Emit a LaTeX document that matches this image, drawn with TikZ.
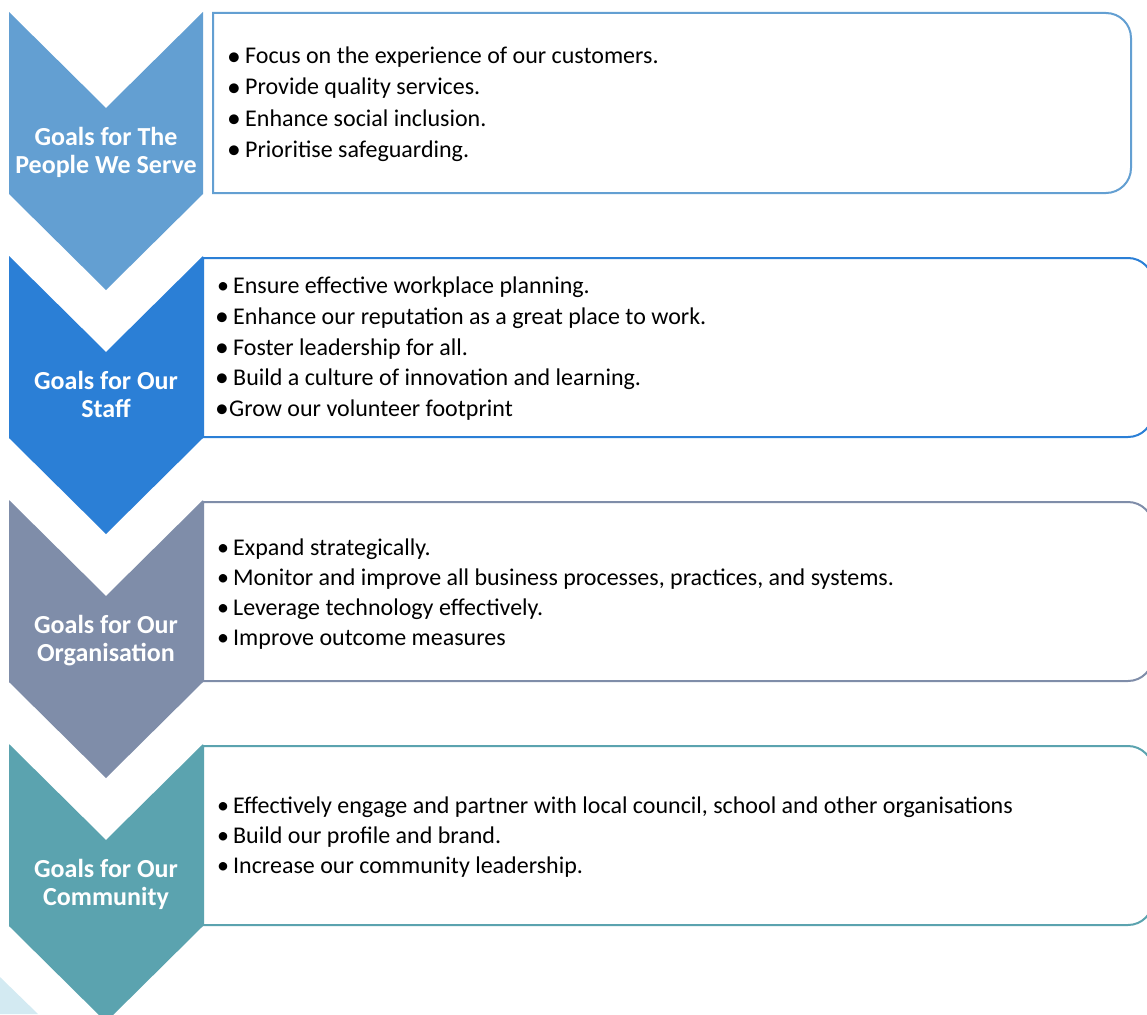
\documentclass[tikz,border=0pt]{standalone}
\usepackage{fontspec}
\setmainfont{Carlito}
\usetikzlibrary{positioning}

\definecolor{peopleblue}{HTML}{639FD2}
\definecolor{staffblue}{HTML}{2B7FD6}
\definecolor{orggrey}{HTML}{7F8DA9}
\definecolor{commteal}{HTML}{5BA3AF}
\definecolor{paleteal}{HTML}{D3EAF2}

% bullets: big round one and plain one, each in a box of given width
\newcommand{\bigbul}[1][18pt]{\makebox[#1][l]{\raisebox{-1.5pt}{\scalebox{1.15}{\textbullet}}}}
\newcommand{\smallbul}[1][16pt]{\makebox[#1][l]{\textbullet}}
\newcommand{\chevronat}[2]{%
  \fill[#2] (9,#1) -- (106,#1+96) -- (203,#1) -- (203,#1+182)
    -- (106,#1+278) -- (9,#1+182) -- cycle;}

\begin{document}
\begin{tikzpicture}[
    x=1pt, y=-1pt,
    goalbox/.style={draw=#1, line width=2pt, fill=white},
    goallbl/.style={font=\fontsize{26}{28}\selectfont\bfseries, text=white,
        anchor=base, inner sep=0pt},
    item/.style={font=\fontsize{24}{28}\selectfont, anchor=base west, inner sep=0pt},
]
\useasboundingbox (0,0) rectangle (1147,1014);
\clip (0,0) rectangle (1147,1014);

% ── Faint shape at the foot ──
\fill[paleteal] (0,977) -- (38,1014) -- (0,1014) -- cycle;

% ── Goal boxes ──
\draw[goalbox=peopleblue] (213,13) [rounded corners=25pt] -- (1131,13)
    -- (1131,193) [sharp corners] -- (213,193) -- cycle;
\draw[goalbox=staffblue] (203,258) [rounded corners=25pt] -- (1153,258)
    -- (1153,437) [sharp corners] -- (203,437) -- cycle;
\draw[goalbox=orggrey] (203,502) [rounded corners=25pt] -- (1153,502)
    -- (1153,681) [sharp corners] -- (203,681) -- cycle;
\draw[goalbox=commteal] (203,746) [rounded corners=25pt] -- (1153,746)
    -- (1153,925) [sharp corners] -- (203,925) -- cycle;

% ── Chevrons ──
\chevronat{12}{peopleblue}
\chevronat{256}{staffblue}
\chevronat{500}{orggrey}
\chevronat{744}{commteal}

% ── Chevron labels ──
\node[goallbl] (people1) at (106,145) {Goals for The};
\node[goallbl] (people2) at (106,173) {People We Serve};
\node[goallbl] (staff1)  at (106,389) {Goals for Our};
\node[goallbl] (staff2)  at (106,417) {Staff};
\node[goallbl] (org1)    at (106,633) {Goals for Our};
\node[goallbl] (org2)    at (106,661) {Organisation};
\node[goallbl] (comm1)   at (106,877) {Goals for Our};
\node[goallbl] (comm2)   at (106,905) {Community};

% ── People we serve ──
\node[item] (pa) at (227,64)  {\bigbul Focus on the experience of our customers.};
\node[item] (pb) at (227,95)  {\bigbul Provide quality services.};
\node[item] (pc) at (227,126) {\bigbul Enhance social inclusion.};
\node[item] (pd) at (227,157) {\bigbul Prioritise safeguarding.};

% ── Staff ──
\node[item] (sa) at (217,293) {\smallbul Ensure effective workplace planning.};
\node[item] (sb) at (215,324) {\bigbul Enhance our reputation as a great place to work.};
\node[item] (sc) at (215,355) {\bigbul Foster leadership for all.};
\node[item] (sd) at (215,385) {\bigbul Build a culture of innovation and learning.};
\node[item] (se) at (215,416) {\bigbul[14pt]Grow our volunteer footprint};

% ── Organisation ──
\node[item] (oa) at (217,555) {\smallbul Expand strategically.};
\node[item] (ob) at (217,585) {\smallbul Monitor and improve all business processes, practices, and systems.};
\node[item] (oc) at (217,615) {\smallbul Leverage technology effectively.};
\node[item] (od) at (217,645) {\smallbul Improve outcome measures};

% ── Community ──
\node[item] (ca) at (217,813) {\smallbul Effectively engage and partner with local council, school and other organisations};
\node[item] (cb) at (217,843) {\smallbul Build our profile and brand.};
\node[item] (cc) at (217,873) {\smallbul Increase our community leadership.};

\end{tikzpicture}
\end{document}
